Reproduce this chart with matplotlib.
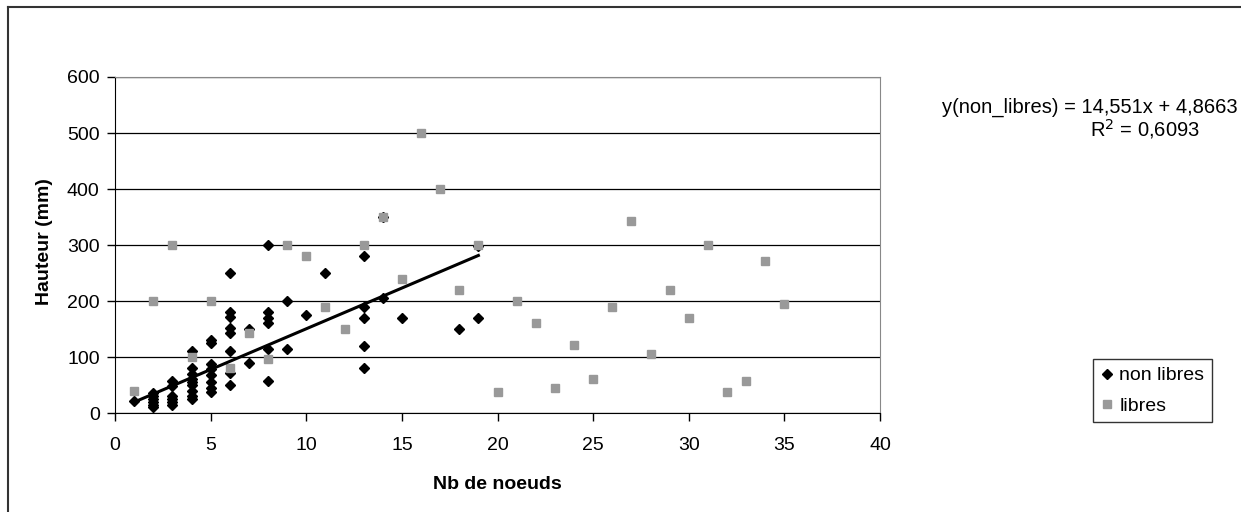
import numpy as np
import matplotlib
matplotlib.use("Agg")
import matplotlib.pyplot as plt
from matplotlib.lines import Line2D

plt.rcParams['font.family'] = ['Liberation Sans', 'DejaVu Sans']

# ## Data
# non libres (black diamonds)
nl_x = [1,
        2, 2, 2, 2, 2, 2,
        3, 3, 3, 3, 3, 3,
        4, 4, 4, 4, 4, 4, 4, 4, 4,
        5, 5, 5, 5, 5, 5, 5, 5,
        6, 6, 6, 6, 6, 6, 6, 6,
        7, 7,
        8, 8, 8, 8, 8, 8,
        9, 9,
        10,
        11,
        13, 13, 13, 13, 13,
        14, 14,
        15,
        18,
        19, 19]
nl_y = [22,
        35, 30, 25, 20, 15, 10,
        58, 48, 30, 25, 20, 15,
        110, 80, 70, 60, 55, 50, 40, 30, 25,
        130, 125, 88, 78, 68, 55, 45, 38,
        250, 180, 172, 152, 143, 110, 72, 50,
        150, 90,
        300, 180, 170, 160, 115, 58,
        200, 115,
        175,
        250,
        280, 190, 170, 120, 80,
        350, 205,
        170,
        150,
        298, 170]

# libres (grey squares)
l_x = [1, 2, 3, 4, 5, 6, 7, 8, 9, 10, 11, 12, 13, 14, 15, 16, 17, 18,
       19, 20, 21, 22, 23, 24, 25, 26, 27, 28, 29, 30, 31, 32, 33, 34, 35]
l_y = [40, 200, 300, 100, 200, 80, 142, 96, 300, 280, 190, 150, 300, 350,
       240, 500, 400, 220, 300, 37, 200, 160, 45, 121, 60, 190, 342, 105,
       220, 170, 300, 37, 57, 271, 195]

# linear trendline of non libres, as printed on the chart
slope = 14.551
intercept = 4.8663
r2 = 0.6093

x_ticks = [0, 5, 10, 15, 20, 25, 30, 35, 40]
y_ticks = [0, 100, 200, 300, 400, 500, 600]

W, H = 1241, 512
fig = plt.figure(figsize=(W / 100, H / 100), dpi=100)
ax = fig.add_axes([115 / W, 1 - 413 / H, 765 / W, 336 / H])

# outer chart frame: only left and top edges are inside the picture
fig.add_artist(Line2D([8 / W, 8 / W], [0, 1 - 7 / H], transform=fig.transFigure,
                      color='#333333', linewidth=1.5))
fig.add_artist(Line2D([8 / W, 1], [1 - 7 / H, 1 - 7 / H], transform=fig.transFigure,
                      color='#333333', linewidth=1.5))

ax.set_axisbelow(True)
ax.yaxis.grid(True, color='black', linewidth=0.9)

ax.plot(nl_x, nl_y, linestyle='none', marker='D', markersize=5.5,
        color='black', label='non libres', zorder=3)
ax.plot(l_x, l_y, linestyle='none', marker='s', markersize=6,
        color='#999999', label='libres', zorder=4)

x_fit = np.array([min(nl_x), max(nl_x)])
ax.plot(x_fit, slope * x_fit + intercept, color='black', linewidth=2.2,
        zorder=5)

ax.set_xlim(0, 40)
ax.set_ylim(0, 600)
ax.set_xticks(x_ticks)
ax.set_yticks(y_ticks)
ax.tick_params(axis='both', labelsize=14, direction='out', length=6,
               width=1, color='black')
ax.tick_params(axis='x', pad=11)
ax.tick_params(axis='y', pad=5)

for side in ['top', 'right']:
    ax.spines[side].set_color('#888888')
for side in ['left', 'bottom']:
    ax.spines[side].set_color('black')

ax.set_xlabel('Nb de noeuds', fontsize=14, fontweight='bold')
ax.xaxis.set_label_coords(0.5, -0.188)
ax.set_ylabel('Hauteur (mm)', fontsize=14, fontweight='bold')
ax.yaxis.set_label_coords(-0.081, 0.51)

eq = 'y(non_libres) = {:.3f}x + {:.4f}'.format(slope, intercept).replace('.', ',')
fig.text(942 / W, 1 - 107 / H, eq, fontsize=14.5, ha='left', va='center')
fig.text(1145 / W, 1 - 129 / H, 'R$^2$ = ' + '{:.4f}'.format(r2).replace('.', ','),
         fontsize=14.5, ha='center', va='center')

leg = fig.legend(loc='upper left', bbox_to_anchor=(1093 / W, 1 - 359 / H),
                 fontsize=14, frameon=True, fancybox=False, handlelength=0.6,
                 handletextpad=0.35, borderpad=0.4, labelspacing=0.65,
                 borderaxespad=0, markerscale=0.9)
leg.get_frame().set_edgecolor('black')
leg.get_frame().set_linewidth(1)

fig.savefig('out.png', dpi=100)
